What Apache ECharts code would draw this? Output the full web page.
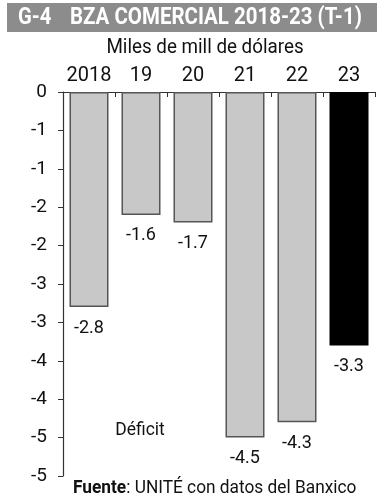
<!DOCTYPE html>
<html>
<head>
<meta charset="utf-8">
<script src="https://cdn.jsdelivr.net/npm/echarts@6/dist/echarts.min.js"></script>
<style>
html,body{margin:0;padding:0;background:#fff;}
#chart{width:392px;height:500px;}
</style>
</head>
<body>
<div id="chart"></div>
<script>
var categories = ['2018', '19', '20', '21', '22', '23'];
var values = [-2.8, -1.6, -1.7, -4.5, -4.3, -3.3];
var valueLabels = ['-2.8', '-1.6', '-1.7', '-4.5', '-4.3', '-3.3'];
var yTickLabels = ['0', '-1', '-1', '-2', '-2', '-3', '-3', '-4', '-4', '-5', '-5'];
var titleA = 'G-4';
var titleB = 'BZA COMERCIAL 2018-23 (T-1)';
var subtitleText = 'Miles de mill de dólares';
var noteText = 'Déficit';

var FONT = "Roboto, 'Noto Sans', sans-serif";
var chart = echarts.init(document.getElementById('chart'));

var barData = values.map(function (v, i) {
  var last = i === values.length - 1;
  return {
    value: v,
    itemStyle: {
      color: last ? '#000000' : '#c8c8c8',
      borderColor: last ? '#000000' : '#555555',
      borderWidth: 1.5
    },
    label: { formatter: valueLabels[i] }
  };
});

chart.setOption({
  animation: false,
  textStyle: { fontFamily: FONT },
  grid: { left: 63, right: 17, top: 92, bottom: 24, containLabel: false },
  graphic: [
    { type: 'rect', shape: { x: 7, y: 3, width: 370, height: 29 }, style: { fill: '#8c8c8c' } },
    { type: 'text', x: 18, y: 18, scaleX: 0.88, style: { text: titleA, fill: '#ffffff', font: 'bold 23px ' + FONT, verticalAlign: 'middle', textAlign: 'left' } },
    { type: 'text', x: 70, y: 18, scaleX: 0.89, style: { text: titleB, fill: '#ffffff', font: 'bold 23px ' + FONT, verticalAlign: 'middle', textAlign: 'left' } },
    { type: 'text', x: 205, y: 48, scaleX: 0.94, style: { text: subtitleText, fill: '#111', font: '20px ' + FONT, verticalAlign: 'middle', textAlign: 'center' } },
    { type: 'text', x: 140, y: 430, scaleX: 0.92, style: { text: noteText, fill: '#111', font: '19px ' + FONT, verticalAlign: 'middle', textAlign: 'center' } },
    { type: 'text', x: 73, y: 488, scaleX: 0.91, style: {
        text: '{b|Fuente}: UNITÉ con datos del Banxico',
        fill: '#111', font: '19px ' + FONT, verticalAlign: 'middle', textAlign: 'left',
        rich: { b: { fontWeight: 'bold', fontSize: 19, fontFamily: FONT, fill: '#111' } }
    } }
  ],
  xAxis: {
    type: 'category',
    data: categories,
    position: 'top',
    axisLine: { show: true, onZero: false, lineStyle: { color: '#333', width: 1.2 } },
    axisTick: { show: true, inside: true, length: 5, lineStyle: { color: '#333' } },
    axisLabel: { interval: 0, color: '#111', fontSize: 20, fontFamily: FONT, margin: 6 },
    splitLine: { show: false }
  },
  yAxis: {
    type: 'value',
    min: -5, max: 0, interval: 0.5,
    axisLine: { show: true, lineStyle: { color: '#333', width: 1.2 } },
    axisTick: { show: true, length: 5, lineStyle: { color: '#333' } },
    axisLabel: {
      color: '#111', fontSize: 19, fontFamily: FONT, margin: 16,
      formatter: function (v) { return yTickLabels[Math.round(-v / 0.5)]; }
    },
    splitLine: { show: false }
  },
  series: [{
    type: 'bar',
    data: barData,
    barWidth: '75%',
    label: { show: true, position: 'bottom', distance: 12, color: '#111', fontSize: 18, fontFamily: FONT }
  }]
});
</script>
</body>
</html>
